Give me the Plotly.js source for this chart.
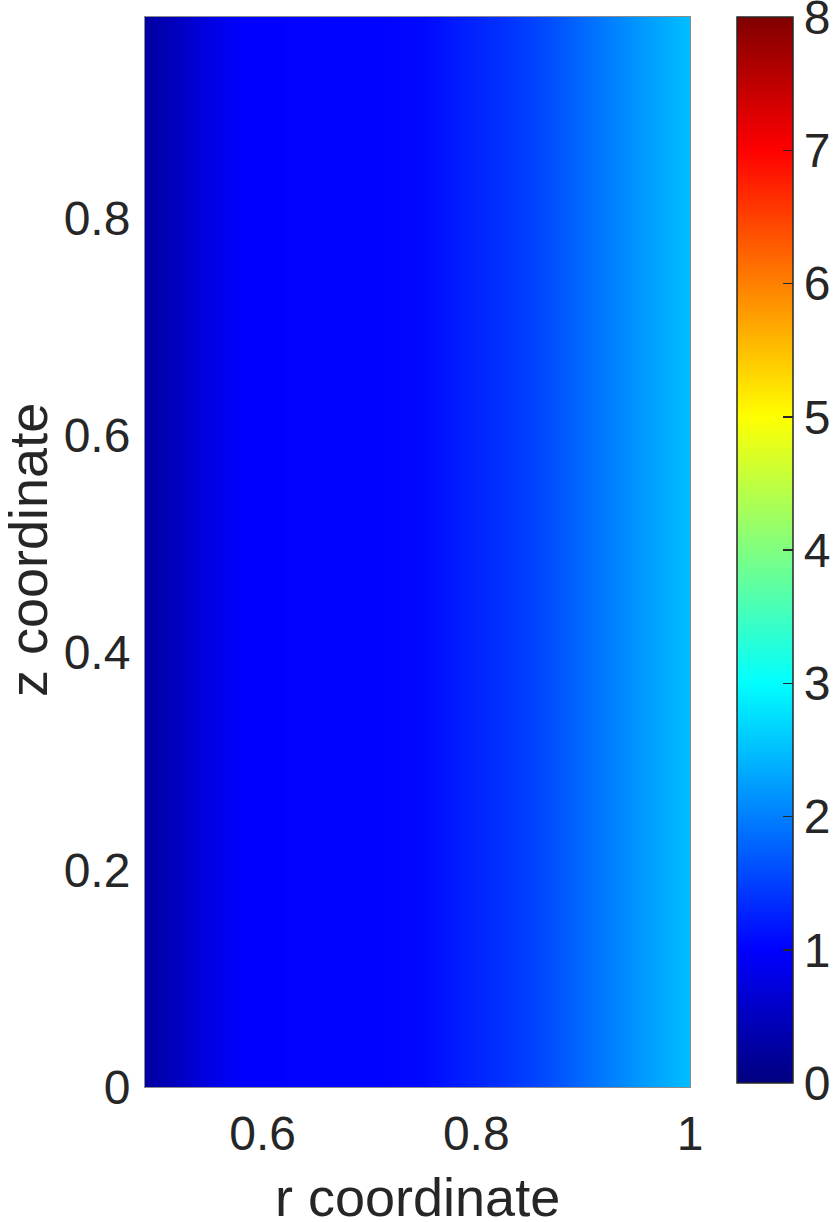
<!DOCTYPE html>
<html>
<head>
<meta charset="utf-8">
<script src="https://cdn.plot.ly/plotly-3.0.1.min.js"></script>
<style>
  html, body { margin: 0; padding: 0; background: #fff; }
  #plot { width: 836px; height: 1222px; }
</style>
</head>
<body>
<div id="plot"></div>
<script>
// radial positions (r) and the field value
const rVals = [0.49, 0.51, 0.533, 0.555, 0.579, 0.60, 0.65, 0.70, 0.75, 0.785, 0.823, 0.85, 0.879, 0.917, 0.954, 1.0];
const fieldVals = [0.26, 0.42, 0.63, 0.82, 0.98, 1.0, 1.01, 1.02, 1.06, 1.22, 1.38, 1.5, 1.68, 1.94, 2.2, 2.5];
// field does not change along z
const zVals = [0, 0.985];
const xTicks = [0.6, 0.8, 1];
const xTickText = ["0.6", "0.8", "1"];
const yTicks = [0, 0.2, 0.4, 0.6, 0.8];
const yTickText = ["0", "0.2", "0.4", "0.6", "0.8"];
const cbTicks = [0, 1, 2, 3, 4, 5, 6, 7, 8];

// matlab style jet
const jet = [
  [0, "#000080"], [0.125, "#0000ff"], [0.375, "#00ffff"],
  [0.625, "#ffff00"], [0.875, "#ff0000"], [1, "#800000"]
];

const textColor = "#262626";
const fontFam = "Arial, 'Liberation Sans', Helvetica, sans-serif";
const W = 836, H = 1222;

const grid = zVals.map(() => fieldVals.slice());

const trace = {
  type: "heatmap",
  x: rVals,
  y: zVals,
  z: grid,
  zsmooth: "best",
  zmin: 0,
  zmax: 8,
  colorscale: jet,
  colorbar: {
    thickness: 56,
    thicknessmode: "pixels",
    xref: "container",
    yref: "paper",
    len: 1066 / 1070,
    lenmode: "fraction",
    x: 737 / W,
    xanchor: "left",
    y: 1,
    yanchor: "top",
    xpad: 0,
    ypad: 0,
    outlinecolor: textColor,
    outlinewidth: 1.5,
    tickmode: "array",
    tickvals: cbTicks,
    ticktext: cbTicks.map(String),
    ticks: "inside",
    ticklen: 10,
    tickwidth: 1.5,
    tickcolor: textColor,
    ticklabeloverflow: "allow",
    tickfont: { family: fontFam, size: 48, color: textColor }
  },
  hoverinfo: "x+y+z"
};

const layout = {
  width: W,
  height: H,
  margin: { l: 145, r: 146, t: 17, b: 135 },
  paper_bgcolor: "#fff",
  plot_bgcolor: "#fff",
  font: { family: fontFam, color: textColor },
  xaxis: {
    range: [0.49, 1.0],
    tickmode: "array",
    tickvals: xTicks,
    ticktext: xTickText,
    ticks: "",
    showgrid: false,
    zeroline: false,
    showline: true,
    mirror: true,
    linecolor: "#8c8c8c",
    linewidth: 1,
    ticklabelstandoff: 4,
    tickfont: { family: fontFam, size: 48, color: textColor },
    automargin: false
  },
  yaxis: {
    range: [0, 0.985],
    tickmode: "array",
    tickvals: yTicks,
    ticktext: yTickText,
    ticks: "",
    showgrid: false,
    zeroline: false,
    showline: true,
    mirror: true,
    linecolor: "#8c8c8c",
    linewidth: 1,
    ticklabelstandoff: 4,
    tickfont: { family: fontFam, size: 48, color: textColor },
    automargin: false
  },
  annotations: [
    {
      text: "r coordinate", xref: "paper", yref: "paper",
      x: 0.5, y: -(1197 - 1087) / 1070, xanchor: "center", yanchor: "middle",
      borderpad: 0, showarrow: false, font: { family: fontFam, size: 54, color: textColor }
    },
    {
      text: "z coordinate", xref: "paper", yref: "paper",
      x: -(145 - 28) / 545, y: (1087 - 550) / 1070, xanchor: "center", yanchor: "middle",
      borderpad: 0, textangle: -90, showarrow: false, font: { family: fontFam, size: 54, color: textColor }
    }
  ]
};

Plotly.newPlot("plot", [trace], layout, { displayModeBar: false, staticPlot: true });
</script>
</body>
</html>
